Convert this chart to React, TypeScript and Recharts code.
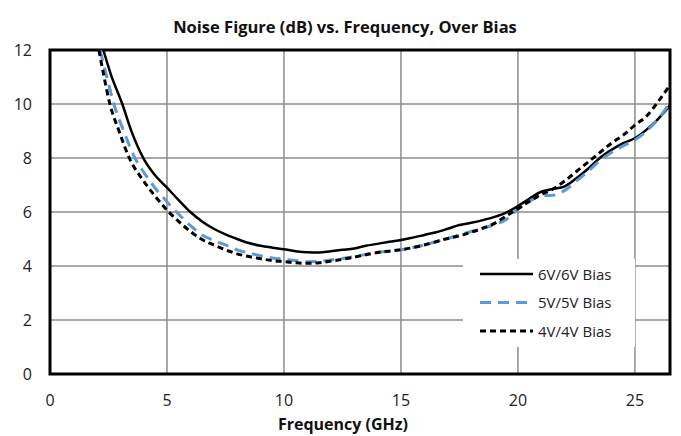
import React from "react";
import { LineChart, Line, XAxis, YAxis, CartesianGrid, ReferenceArea } from "recharts";

const freq6 = [2.28, 2.6, 3.09, 3.5, 4.0, 4.5, 5, 5.5, 6, 6.5, 7, 7.5, 8, 8.5, 9, 9.5, 10, 10.5, 11, 11.5, 12, 12.5, 13, 13.5, 14, 14.5, 15, 15.5, 16, 16.5, 17, 17.5, 18, 18.5, 19, 19.5, 20, 20.5, 21, 21.5, 22, 22.5, 23, 23.5, 24, 24.5, 25, 25.5, 26, 26.5];
const nf6 = [12, 11.1, 10, 8.95, 7.98, 7.35, 6.9, 6.44, 6.0, 5.65, 5.38, 5.17, 5.0, 4.85, 4.75, 4.68, 4.62, 4.55, 4.51, 4.5, 4.55, 4.6, 4.65, 4.75, 4.82, 4.9, 4.96, 5.05, 5.15, 5.25, 5.38, 5.52, 5.6, 5.7, 5.82, 5.98, 6.22, 6.5, 6.75, 6.85, 6.95, 7.25, 7.6, 8.0, 8.3, 8.55, 8.73, 9.05, 9.45, 9.95];

const freq5 = [2.14, 2.4, 2.73, 3.15, 3.63, 4, 4.5, 5, 5.41, 6, 6.5, 7, 7.5, 8, 8.5, 9, 9.5, 10, 10.5, 11, 11.5, 12, 12.5, 13, 13.5, 14, 14.5, 15, 15.5, 16, 16.5, 17, 17.5, 18, 18.5, 19, 19.5, 20, 20.5, 21, 21.5, 22, 22.5, 23, 23.5, 24, 24.5, 25, 25.5, 26, 26.5];
const nf5 = [12, 11.1, 10, 9.0, 8, 7.48, 6.88, 6.38, 6.0, 5.5, 5.15, 4.95, 4.78, 4.6, 4.48, 4.38, 4.3, 4.25, 4.2, 4.16, 4.17, 4.22, 4.28, 4.35, 4.43, 4.5, 4.55, 4.6, 4.68, 4.78, 4.9, 5.02, 5.15, 5.28, 5.4, 5.53, 5.72, 6.1, 6.4, 6.6, 6.62, 6.8, 7.15, 7.5, 7.9, 8.2, 8.45, 8.67, 9.0, 9.45, 10.05];

const freq4 = [2.09, 2.3, 2.56, 2.95, 3.39, 4, 4.5, 5, 5.5, 6, 6.5, 7, 7.5, 8, 8.5, 9, 9.5, 10, 10.5, 11, 11.5, 12, 12.5, 13, 13.5, 14, 14.5, 15, 15.5, 16, 16.5, 17, 17.5, 18, 18.5, 19, 19.5, 20, 20.5, 21, 21.5, 22, 22.5, 23, 23.5, 24, 24.5, 25, 25.5, 26, 26.5];
const nf4 = [12, 11.05, 10, 9.0, 8, 7.15, 6.58, 6.07, 5.65, 5.28, 4.98, 4.78, 4.6, 4.45, 4.35, 4.27, 4.2, 4.16, 4.12, 4.1, 4.12, 4.18, 4.25, 4.33, 4.42, 4.5, 4.55, 4.6, 4.68, 4.78, 4.9, 5.02, 5.12, 5.25, 5.4, 5.58, 5.85, 6.12, 6.4, 6.65, 6.85, 7.15, 7.5, 7.85, 8.2, 8.55, 8.85, 9.22, 9.55, 10.1, 10.7];

const xTicks = [0, 5, 10, 15, 20, 25];
const yTicks = [0, 2, 4, 6, 8, 10, 12];

const seriesNames = ["6V/6V Bias", "5V/5V Bias", "4V/4V Bias"];
const title = "Noise Figure (dB) vs. Frequency, Over Bias";
const xLabel = "Frequency (GHz)";

const toRows = (xs: number[], ys: number[]) => xs.map((f, i) => ({ f, v: ys[i] }));

const FONT = "'Open Sans', 'Noto Sans', sans-serif";

const styles = [
  { stroke: "#000000", strokeWidth: 2.5, dash: undefined as string | undefined },
  { stroke: "#5B9BD5", strokeWidth: 3, dash: "11 7" },
  { stroke: "#000000", strokeWidth: 3, dash: "6 4" },
];

const LegendBox = () => (
  <div style={{ position: "absolute", left: 463, top: 259, width: 172, height: 88, background: "#fff" }}>
    <svg width={172} height={88} style={{ display: "block" }}>
      {seriesNames.map((name, i) => {
        const y = 15 + i * 28.5;
        return (
          <g key={name}>
            <line x1={17} x2={70} y1={y} y2={y} stroke={styles[i].stroke} strokeWidth={styles[i].strokeWidth} strokeDasharray={styles[i].dash} />
            <text x={75} y={y + 5.5} fontFamily={FONT} fontSize={15} fill="#222">{name}</text>
          </g>
        );
      })}
    </svg>
  </div>
);

export default function App() {
  return (
    <div style={{ position: "absolute", left: 0, top: 0, width: 681, height: 436, background: "#fff" }}>
      <LineChart width={681} height={436} margin={{ top: 50, right: 11, bottom: 0, left: 0 }}>
        <CartesianGrid stroke="#8c8c8c" strokeWidth={1.5} />
        <XAxis
          type="number"
          dataKey="f"
          domain={[0, 26.5]}
          ticks={xTicks}
          allowDataOverflow
          axisLine={false}
          tickLine={false}
          tickMargin={15}
          height={62}
          tick={{ fill: "#222", fontSize: 16, fontFamily: FONT }}
          label={{
            content: (props: any) => {
              const vb = props.viewBox || {};
              return (
                <text x={vb.x + vb.width / 2 - 17} y={430} textAnchor="middle" fontFamily={FONT} fontWeight={700} fontSize={16} fill="#111">
                  {xLabel}
                </text>
              );
            },
          }}
        />
        <YAxis
          type="number"
          domain={[0, 12]}
          ticks={yTicks}
          allowDataOverflow
          axisLine={false}
          tickLine={false}
          tickMargin={12}
          width={50}
          tick={{ fill: "#222", fontSize: 16, fontFamily: FONT }}
        />
        <ReferenceArea x1={0} x2={26.5} y1={0} y2={12} fill="none" stroke="#000" strokeWidth={3} ifOverflow="visible" />
        <Line data={toRows(freq6, nf6)} dataKey="v" name={seriesNames[0]} type="monotone" stroke={styles[0].stroke} strokeWidth={styles[0].strokeWidth} dot={false} isAnimationActive={false} />
        <Line data={toRows(freq5, nf5)} dataKey="v" name={seriesNames[1]} type="monotone" stroke={styles[1].stroke} strokeWidth={styles[1].strokeWidth} strokeDasharray={styles[1].dash} dot={false} isAnimationActive={false} />
        <Line data={toRows(freq4, nf4)} dataKey="v" name={seriesNames[2]} type="monotone" stroke={styles[2].stroke} strokeWidth={styles[2].strokeWidth} strokeDasharray={styles[2].dash} dot={false} isAnimationActive={false} />
      </LineChart>
      <div style={{ position: "absolute", left: 0, top: 15, width: 690, textAlign: "center", fontFamily: FONT, fontWeight: 700, fontSize: 16.5, color: "#111" }}>
        {title}
      </div>
      <LegendBox />
    </div>
  );
}
